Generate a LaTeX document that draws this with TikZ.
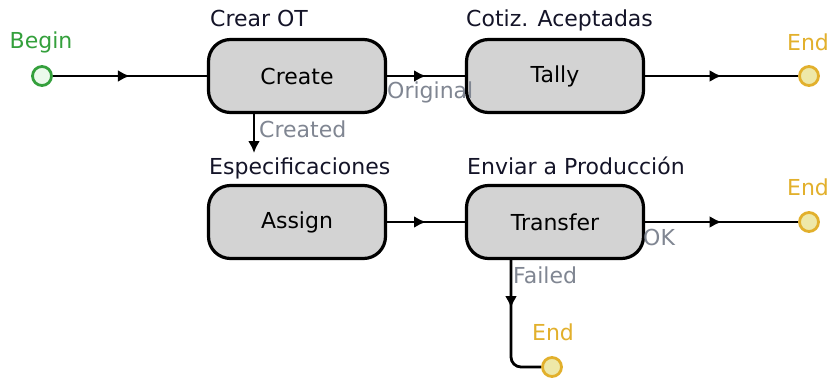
\documentclass[tikz,border=0pt]{standalone}
\usepackage{fontspec}
\setmainfont{DejaVu Sans}
\usetikzlibrary{arrows.meta,decorations.markings}
\definecolor{boxfill}{RGB}{211,211,211}
\definecolor{edgelbl}{RGB}{128,134,146}
\definecolor{begincol}{RGB}{52,160,60}
\definecolor{beginfill}{RGB}{236,250,236}
\definecolor{endcol}{RGB}{226,176,44}
\definecolor{endfill}{RGB}{238,232,168}
\definecolor{toptxt}{RGB}{20,20,40}
\tikzset{mytip/.tip={Latex[length=12pt,width=12pt]}}
\begin{document}
\begin{tikzpicture}[x=1pt,y=-1pt,
  every node/.style={font=\fontsize{22}{26}\selectfont},
  actbox/.style={draw=black,line width=3.2pt,fill=boxfill,rounded corners=22pt,
    minimum width=177pt,minimum height=73pt,inner sep=0pt},
  startpt/.style={circle,draw=begincol,fill=beginfill,line width=2.8pt,minimum size=19pt,inner sep=0pt},
  endpt/.style={circle,draw=endcol,fill=endfill,line width=2.8pt,minimum size=19pt,inner sep=0pt},
  toplbl/.style={anchor=base west,inner sep=0pt,text=toptxt},
  edgelab/.style={anchor=west,inner sep=0pt,text=edgelbl},
  conn/.style={line width=2.8pt,draw=black},
  midarrow/.style={conn,postaction={decorate},decoration={markings,
    mark=at position 0.5 with {\arrow{mytip}}}},
  ]
\useasboundingbox[fill=white] (0,0) rectangle (832,385);

% nodes
\node[startpt] (b) at (42,76) {};
\node[text=begincol,inner sep=0pt] (bl) at (41,42) {Begin};

\node[actbox] (create) at (297,76) {Create};
\node[actbox] (tally) at (555,76) {Tally};
\node[actbox] (assign) at (297,222) {Assign};
\node[actbox] (transfer) at (555,222) {Transfer};

\node[toplbl] (l1) at (210,27) {Crear OT};
\node[toplbl] (l2) at (466,27) {Cotiz. Aceptadas};
\node[toplbl] (l3) at (209,174) {Especificaciones};
\node[toplbl] (l4) at (467,174) {Enviar a Producción};

\node[endpt] (e1) at (809,76) {};
\node[text=endcol,inner sep=0pt] (e1l) at (808,42) {End};
\node[endpt] (e2) at (809,222) {};
\node[text=endcol,inner sep=0pt] (e2l) at (808,187) {End};
\node[endpt] (e3) at (552,367) {};
\node[text=endcol,inner sep=0pt] (e3l) at (553,332) {End};

% connectors
\draw[midarrow] (b) -- (create);
\draw[midarrow] (create) -- (tally);
\draw[midarrow] (tally) -- (e1);
\draw[midarrow] (assign) -- (transfer);
\draw[midarrow] (transfer) -- (e2);

\coordinate (cend) at (254,153);
\draw[conn,-{mytip}] (create.south -| cend) -- (cend);

\coordinate (fc) at (511,367);
\draw[conn,rounded corners=10pt,postaction={decorate},decoration={markings,
    mark=at position 48pt with {\arrow{mytip}}}]
  (transfer.south -| fc) -- (fc) -- (e3);

% edge labels
\node[edgelab] (lcreated) at (259,129) {Created};
\node[edgelab] (lorig) at (387,92) {Original};
\node[edgelab] (lok) at (643,237) {OK};
\node[edgelab] (lfail) at (513,275) {Failed};
\end{tikzpicture}
\end{document}
